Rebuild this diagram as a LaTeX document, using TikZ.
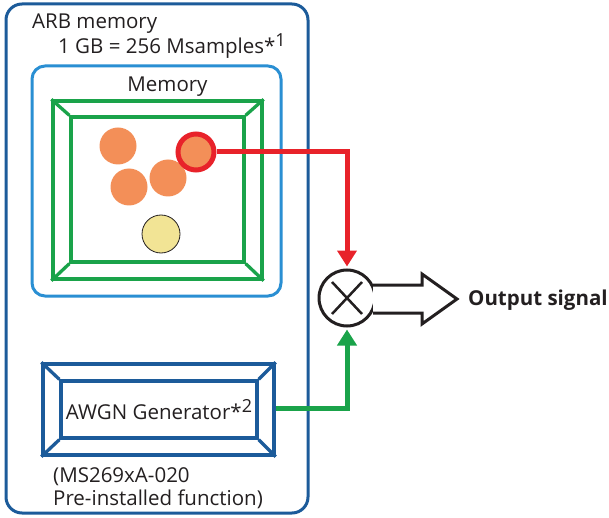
\documentclass[tikz,border=0pt]{standalone}
\usepackage{fontspec}
\setmainfont{Open Sans}
\usetikzlibrary{arrows.meta,calc}
\definecolor{arbblue}{HTML}{1C5B9A}
\definecolor{memblue}{HTML}{2A8FD3}
\definecolor{frgreen}{HTML}{1AA34A}
\definecolor{sigred}{HTML}{E8222A}
\definecolor{dotorange}{HTML}{F38F58}
\definecolor{dotyellow}{HTML}{F2E495}
\definecolor{ink}{HTML}{231F20}
\tikzset{
  txt/.style={font=\fontsize{20.5}{24}\selectfont, text=ink, inner sep=0pt},
  dot/.style={circle, fill=dotorange, minimum size=37pt, inner sep=0pt},
  wire/.style={line width=5pt},
  tip/.style={-{Triangle[length=16pt,width=19pt]}, shorten >=2pt},
}
\newcommand{\supnum}[1]{\raisebox{7pt}{\fontsize{18}{18}\selectfont #1}}
\begin{document}
\begin{tikzpicture}[x=1pt,y=-1pt]
\useasboundingbox (0,0) rectangle (609,518);

% outer ARB memory box
\node[draw=arbblue, line width=3pt, rounded corners=16pt, minimum width=302pt,
      minimum height=509pt, inner sep=0pt] (arb) at (157,258.5) {};
\node[txt, anchor=base west] (arbtitle) at (32,29) {ARB memory};
\node[txt, anchor=base west] (arbsize) at (58,54) {1 GB = 256 Msamples*\supnum{1}};

% memory box
\node[draw=memblue, line width=3pt, rounded corners=13pt, minimum width=249pt,
      minimum height=230pt, inner sep=0pt] (mem) at (156.5,181) {};
\node[txt, anchor=base] (memtitle) at (167.5,92) {Memory};

% bevelled green frame
\node[draw=frgreen, line width=3.3pt, minimum width=209pt, minimum height=178pt,
      inner sep=0pt] (gout) at (157.5,190) {};
\node[draw=frgreen, line width=3.3pt, minimum width=173pt, minimum height=145pt,
      inner sep=0pt] (gin) at (157.5,189.5) {};
\foreach \c in {north west,north east,south west,south east}
  \draw[frgreen, line width=3.3pt] (gout.\c) -- (gin.\c);

% samples
\node[dot] (s1) at (118,146) {};
\node[dot] (s2) at (129,187) {};
\node[dot] (s3) at (168,178) {};
\node[dot, draw=sigred, line width=5pt, minimum size=36pt] (s4) at (196,152) {};
\node[circle, fill=dotyellow, draw=ink, line width=0.8pt, minimum size=38pt,
      inner sep=0pt] (s5) at (161,234) {};

% AWGN generator box
\node[draw=arbblue, line width=3.3pt, minimum width=231pt, minimum height=91pt,
      inner sep=0pt] (aout) at (158.5,409.5) {};
\node[draw=arbblue, line width=3.3pt, minimum width=196pt, minimum height=57pt,
      inner sep=0pt, txt] (awgn) at (159,409.5) {AWGN Generator*\supnum{2}};
\foreach \c in {north west,north east,south west,south east}
  \draw[arbblue, line width=3.3pt] (aout.\c) -- (awgn.\c);
\node[txt, anchor=base west] (opt1) at (53,482) {(MS269xA-020};
\node[txt, anchor=base west] (opt2) at (53,505) {Pre-installed function)};

% mixer
\node[circle, draw=ink, fill=white, line width=3pt, minimum size=56pt,
      inner sep=0pt] (mult) at (347,298) {};
\draw[ink, line width=2.5pt] ($(mult.center)+(-15,-16)$) -- ($(mult.center)+(15,16)$)
                             ($(mult.center)+(15,-16)$) -- ($(mult.center)+(-15,16)$);

% signal paths
\draw[sigred, wire, tip] (s4.east) -| (mult.north);
\draw[frgreen, wire, tip] (aout.east |- 0,408) coordinate (gstart) -| (mult.south);

% output arrow
\draw[ink, line width=3pt, fill=white, line join=miter]
  ($(mult.center)+(26,-13)$) -- ($(mult.center)+(75,-13)$) -- ($(mult.center)+(75,-24)$)
  -- ($(mult.center)+(110,1)$) -- ($(mult.center)+(75,26)$) -- ($(mult.center)+(75,15)$)
  -- ($(mult.center)+(26,15)$);
\node[txt, font=\fontsize{20.5}{24}\selectfont\bfseries, anchor=base west] (out) at (468,305) {Output signal};
\end{tikzpicture}
\end{document}
